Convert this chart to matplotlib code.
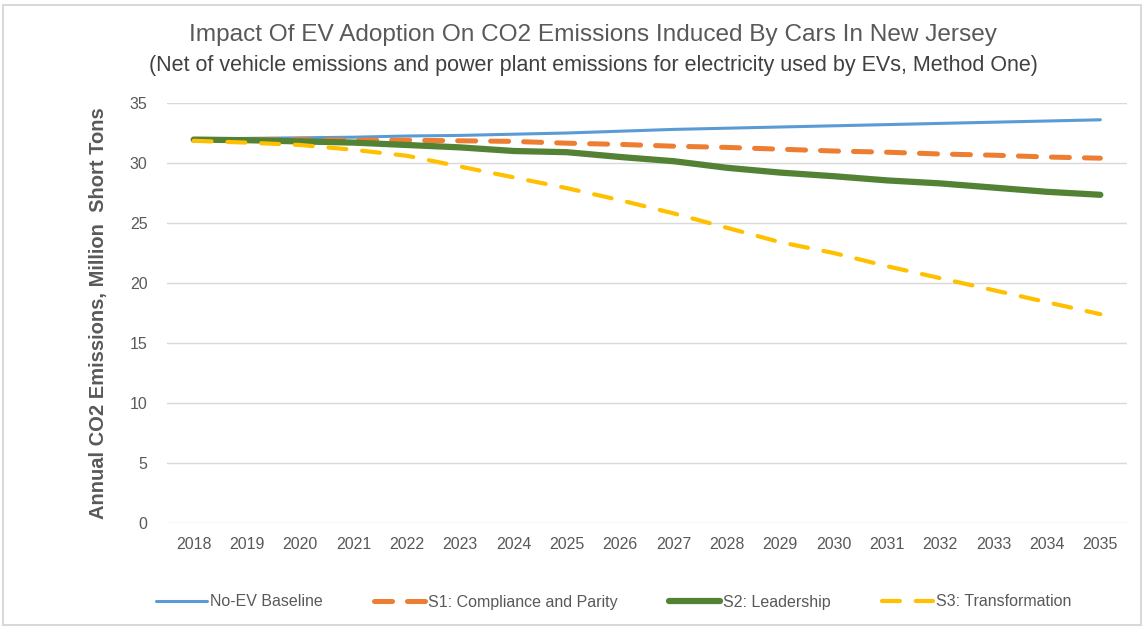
import numpy as np
import matplotlib.pyplot as plt
from matplotlib.patches import Rectangle

plt.rcParams['font.family'] = ['Liberation Sans', 'DejaVu Sans']

# Annual CO2 emissions (million short tons) by scenario
years = list(range(2018, 2036))
baseline = [32.0, 32.05, 32.1, 32.15, 32.25, 32.3, 32.4, 32.5, 32.65, 32.8,
            32.9, 33.0, 33.1, 33.2, 33.3, 33.4, 33.5, 33.6]
s1_compliance = [31.95, 31.95, 31.95, 31.9, 31.9, 31.85, 31.8, 31.65, 31.55, 31.4,
                 31.3, 31.15, 31.0, 30.9, 30.75, 30.65, 30.5, 30.4]
s2_leadership = [31.95, 31.9, 31.8, 31.7, 31.5, 31.3, 31.0, 30.9, 30.5, 30.15,
                 29.6, 29.2, 28.9, 28.55, 28.3, 27.95, 27.6, 27.35]
s3_transformation = [31.85, 31.7, 31.5, 31.1, 30.6, 29.7, 28.8, 27.9, 26.9, 25.8,
                     24.6, 23.4, 22.5, 21.4, 20.4, 19.4, 18.4, 17.4]

fig = plt.figure(figsize=(11.45, 6.28), dpi=100)
ax = fig.add_axes([167 / 1145, 1 - 523 / 628, 960 / 1145, 420 / 628])

x = np.arange(len(years))
ax.plot(x, baseline, color='#5B9BD5', lw=2.2, solid_capstyle='round', label='No-EV Baseline')
ax.plot(x, s1_compliance, color='#ED7D31', lw=3.6, dashes=(3.6, 3.0), dash_capstyle='round',
        label='S1: Compliance and Parity')
ax.plot(x, s2_leadership, color='#548235', lw=4.5, solid_capstyle='round', label='S2: Leadership')
ax.plot(x, s3_transformation, color='#FFC000', lw=3.0, dashes=(4.3, 3.8), dash_capstyle='round',
        label='S3: Transformation')

ax.set_xlim(-0.5, len(years) - 0.5)
ax.set_ylim(0, 35)
ax.set_yticks(range(0, 36, 5))
ax.set_xticks(x)
ax.set_xticklabels([str(y) for y in years])
ax.grid(axis='y', color='#D9D9D9', lw=1)
ax.set_axisbelow(True)
for s in ax.spines.values():
    s.set_visible(False)
ax.tick_params(length=0, labelsize=11.5, colors='#595959', pad=10)
ax.tick_params(axis='y', pad=14)

ax.set_ylabel('Annual CO2 Emissions, Million  Short Tons', fontsize=14.5, fontweight='bold',
              color='#595959', labelpad=16)

fig.text(0.518, 1 - 35 / 628, 'Impact Of EV Adoption On CO2 Emissions Induced By Cars In New Jersey',
         ha='center', va='center', fontsize=17.6, color='#595959')
fig.text(0.518, 1 - 65 / 628,
         '(Net of vehicle emissions and power plant emissions for electricity used by EVs, Method One)',
         ha='center', va='center', fontsize=15.5, color='#404040')

fig.legend(loc='center', bbox_to_anchor=(0.536, 1 - 602 / 628), ncol=4, frameon=False,
           fontsize=11.5, handlelength=3.2, columnspacing=3.2, handletextpad=0.2,
           labelcolor='#595959')

# light frame around the chart area
fig.patches.append(Rectangle((3 / 1145, 3 / 628), 1138 / 1145, 620 / 628, transform=fig.transFigure,
                             fill=False, edgecolor='#D9D9D9', lw=1.5))

fig.savefig('out.png', dpi=100)
